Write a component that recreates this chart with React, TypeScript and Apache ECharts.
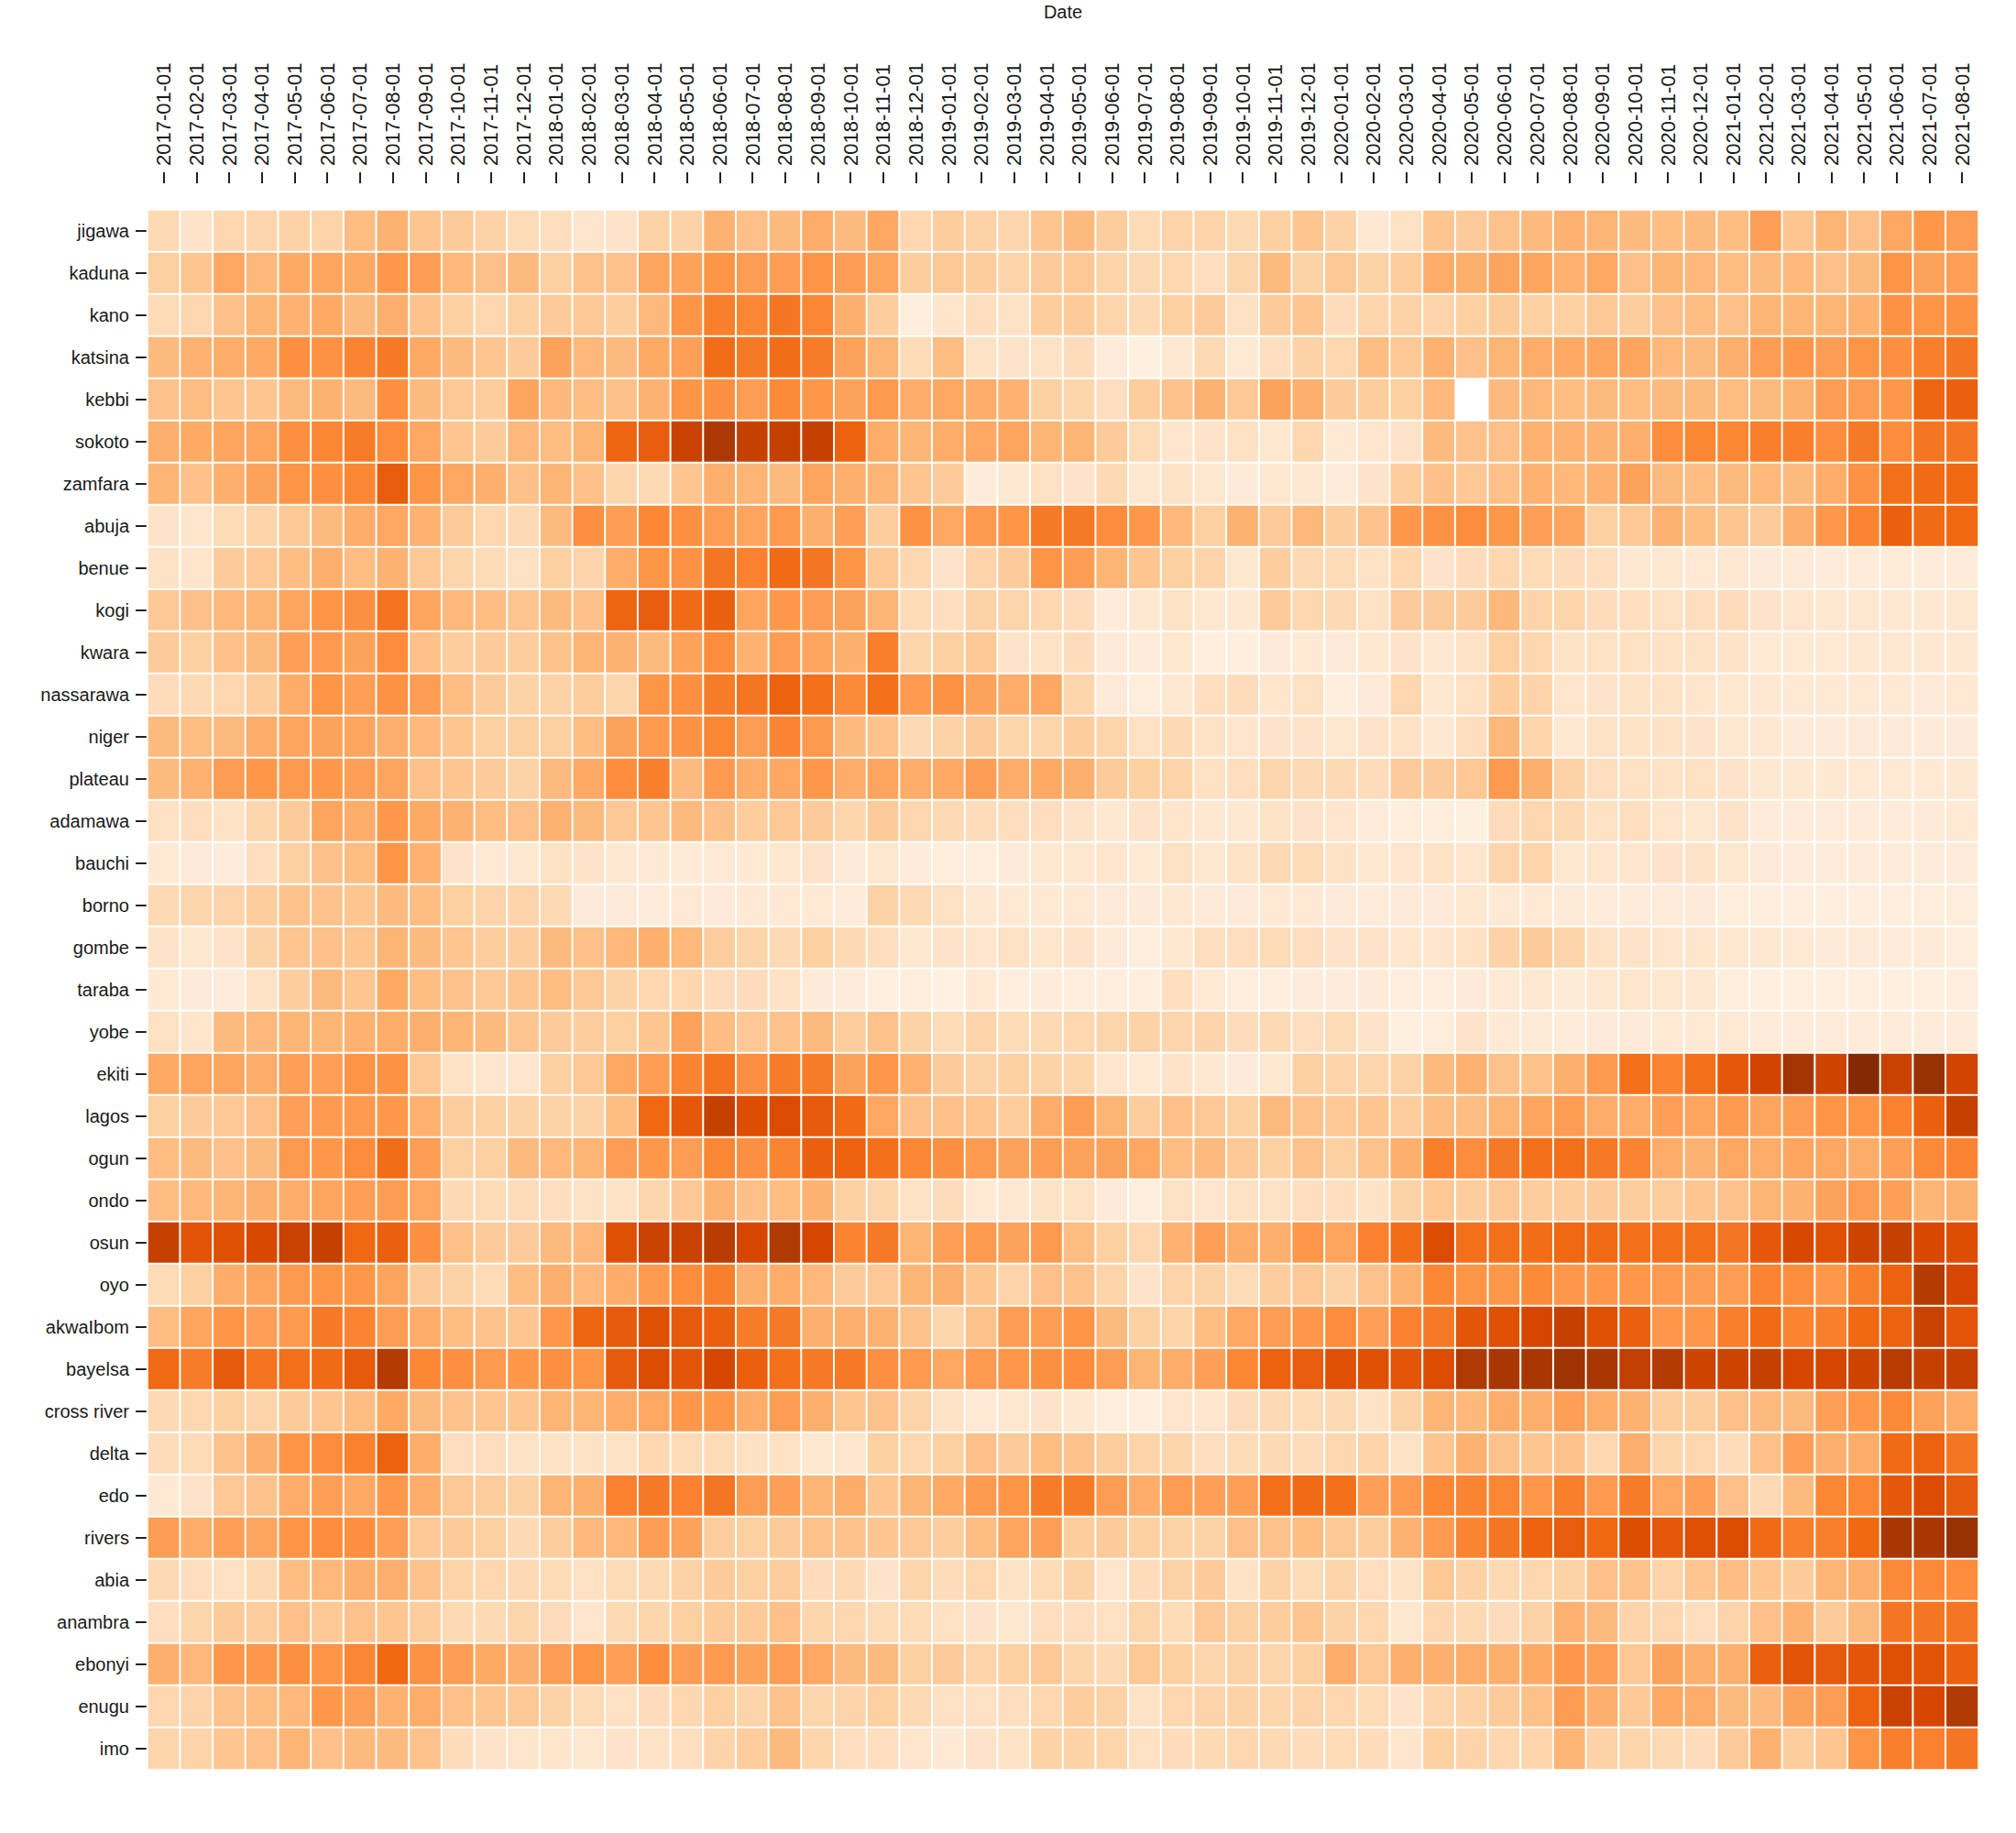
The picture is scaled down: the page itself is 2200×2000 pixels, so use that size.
import React, { useEffect, useRef } from "react";
import * as echarts from "echarts";

const dates = [
  "2017-01-01","2017-02-01","2017-03-01","2017-04-01","2017-05-01","2017-06-01","2017-07-01","2017-08-01","2017-09-01","2017-10-01","2017-11-01","2017-12-01",
  "2018-01-01","2018-02-01","2018-03-01","2018-04-01","2018-05-01","2018-06-01","2018-07-01","2018-08-01","2018-09-01","2018-10-01","2018-11-01","2018-12-01",
  "2019-01-01","2019-02-01","2019-03-01","2019-04-01","2019-05-01","2019-06-01","2019-07-01","2019-08-01","2019-09-01","2019-10-01","2019-11-01","2019-12-01",
  "2020-01-01","2020-02-01","2020-03-01","2020-04-01","2020-05-01","2020-06-01","2020-07-01","2020-08-01","2020-09-01","2020-10-01","2020-11-01","2020-12-01",
  "2021-01-01","2021-02-01","2021-03-01","2021-04-01","2021-05-01","2021-06-01","2021-07-01","2021-08-01",
];

const jigawa = [20,14,21,22,24,23,32,36,29,27,24,19,17,13,14,24,24,36,31,33,38,33,40,21,26,24,22,29,33,26,19,23,23,20,25,29,24,11,16,29,27,30,33,36,35,33,32,33,32,43,29,35,31,40,46,44];
const kaduna = [25,29,40,34,39,41,39,46,44,34,31,33,25,30,30,41,42,47,44,44,47,44,41,26,28,26,23,27,28,23,20,21,17,22,33,24,28,24,26,38,37,41,41,36,40,31,35,34,32,33,34,31,33,47,42,43];
const kano = [19,21,31,35,36,39,33,37,30,25,21,25,27,28,26,34,47,55,52,58,52,37,26,7,13,17,15,26,27,22,20,25,27,16,27,29,18,22,24,23,25,27,25,25,28,26,31,32,31,35,35,35,36,48,47,48];
const katsina = [33,36,38,39,49,48,53,57,39,33,29,27,42,34,33,39,43,61,57,61,56,42,35,19,32,15,14,15,18,8,5,11,20,10,17,24,21,32,28,36,31,35,38,39,41,41,34,33,37,44,46,44,47,49,55,58];
const kebbi = [30,32,29,29,33,36,33,49,33,28,26,41,34,32,31,36,47,49,44,51,46,42,45,38,40,38,36,25,22,17,26,30,36,28,42,37,27,26,25,34,null,33,34,32,33,32,33,33,32,33,36,44,44,46,64,66];
const sokoto = [37,39,41,41,49,52,56,50,40,29,27,34,32,35,64,67,79,86,80,80,80,65,38,35,38,40,41,35,35,27,19,13,14,16,12,21,10,13,14,33,30,31,36,36,36,37,50,52,52,55,55,50,57,50,58,58];
const zamfara = [35,31,37,42,47,49,52,67,47,40,37,31,35,31,22,20,29,37,35,33,41,37,35,29,27,8,11,16,14,20,12,15,12,9,12,11,8,14,26,31,28,31,36,34,36,42,33,32,33,34,33,38,48,60,62,63];
const abuja = [14,13,19,23,28,33,38,40,36,27,21,20,33,49,44,52,49,44,41,45,37,43,26,48,40,45,47,57,57,50,46,34,25,36,27,34,26,30,46,48,50,46,43,41,25,28,36,32,29,27,37,46,53,66,62,63];
const benue = [15,13,27,28,32,37,32,36,28,22,19,16,25,23,38,47,48,58,54,62,58,47,28,21,14,23,27,47,44,35,29,25,23,12,26,20,19,15,21,14,18,21,19,18,17,11,12,10,11,9,9,8,8,8,8,8];
const kogi = [28,31,34,35,41,47,49,59,41,34,32,29,33,31,64,67,62,66,41,46,44,42,35,19,17,24,22,21,18,8,11,15,12,11,27,21,20,16,27,27,27,34,23,22,18,17,16,17,18,14,13,12,12,11,11,12];
const kwara = [27,25,31,33,43,45,42,50,31,26,27,26,30,35,36,33,42,50,36,44,41,37,55,22,25,28,14,15,18,9,8,12,6,6,9,10,9,11,14,11,15,25,21,15,16,16,15,15,14,10,10,10,11,11,11,11];
const nassarawa = [18,20,21,26,38,47,43,48,44,32,27,24,24,26,22,47,49,56,58,65,60,51,60,45,48,42,38,40,22,9,7,11,17,18,13,16,6,9,21,12,16,26,23,13,14,15,15,13,12,11,10,10,10,10,9,10];
const niger = [33,32,33,38,41,42,41,37,34,29,25,25,25,32,42,45,48,52,44,53,45,33,30,20,24,27,22,22,26,22,16,20,15,13,14,14,12,14,15,11,17,34,22,11,15,15,15,14,12,11,9,9,9,9,9,9];
const plateau = [33,36,44,46,45,46,43,41,31,29,27,24,33,39,50,55,33,45,38,40,46,38,41,38,39,44,38,39,37,27,25,23,16,17,22,20,20,18,27,27,28,45,37,24,17,16,15,16,14,11,11,11,10,10,10,11];
const adamawa = [16,17,15,22,27,41,38,46,39,36,32,31,36,33,28,29,33,31,26,28,27,22,27,21,20,18,17,17,14,11,14,13,11,11,15,14,13,8,7,7,5,18,21,20,16,17,13,12,14,8,8,8,8,8,9,10];
const bauchi = [10,9,8,17,25,31,32,47,36,14,10,11,16,14,11,10,9,10,10,12,14,9,12,8,7,7,9,12,12,13,10,16,12,15,20,19,15,11,13,15,13,22,22,12,13,13,14,14,12,9,8,8,8,8,8,8];
const borno = [20,22,23,26,30,30,29,33,32,25,23,23,20,9,9,8,10,9,10,10,10,8,24,20,16,11,10,10,10,9,9,11,9,9,10,10,9,8,9,9,12,10,10,9,8,8,8,9,7,6,6,6,6,6,7,7];
const gombe = [14,12,14,24,29,31,29,35,33,29,26,26,33,31,34,37,34,26,23,20,25,20,17,12,14,13,16,13,14,9,7,12,17,17,19,17,14,14,13,13,16,24,27,23,15,14,13,13,12,11,10,9,9,8,9,7];
const taraba = [10,9,8,15,26,33,29,39,32,30,28,29,32,28,24,21,21,18,18,15,9,8,5,7,4,10,6,8,7,6,6,17,10,7,6,8,8,9,6,6,9,10,11,9,12,13,12,11,7,5,5,5,5,5,5,6];
const yobe = [16,13,33,34,35,35,36,38,37,35,33,29,27,26,25,29,42,32,28,30,33,26,30,24,19,23,19,20,21,22,24,22,23,18,20,17,19,14,5,7,14,10,9,8,9,9,10,10,10,8,8,8,8,8,8,8];
const ekiti = [39,41,41,38,43,43,47,48,28,15,13,13,25,28,40,44,53,59,49,56,56,42,46,36,27,24,25,24,22,13,10,14,11,9,12,25,23,22,24,33,36,30,30,37,45,60,53,60,69,77,88,78,98,79,92,77];
const lagos = [25,27,28,31,43,45,45,46,36,26,25,24,24,24,32,63,69,80,73,74,68,62,40,31,31,29,26,38,44,35,26,31,28,25,33,30,28,29,26,32,32,35,41,44,38,38,43,41,45,41,44,47,47,54,66,80];
const ogun = [32,33,31,33,45,46,50,61,44,25,25,33,34,35,44,46,44,52,49,53,66,65,60,52,49,45,42,44,42,42,40,32,33,28,25,30,25,30,37,55,50,57,60,60,57,53,38,36,40,38,41,40,38,43,51,53];
const ondo = [32,34,35,37,38,41,43,44,40,20,19,18,17,15,15,22,28,36,31,32,36,25,22,16,18,10,11,15,16,9,7,16,13,16,16,17,17,15,24,28,26,28,26,26,27,26,26,29,30,35,36,42,44,43,35,36];
const osun = [80,71,72,75,79,80,63,66,49,31,27,27,33,34,72,79,79,83,76,85,76,53,57,35,43,45,42,45,32,25,21,36,43,38,37,46,41,54,61,74,60,60,61,63,62,60,60,60,58,69,75,72,78,80,75,73];
const oyo = [19,25,38,41,45,47,46,41,27,24,19,32,37,34,38,45,50,55,37,38,34,27,28,35,37,29,23,31,30,23,14,23,24,19,26,28,24,30,36,52,47,46,51,46,46,46,45,44,44,53,50,46,55,65,84,76];
const akwaibom = [32,41,47,43,45,57,53,44,38,32,30,29,46,64,68,72,68,66,56,57,37,37,36,30,22,30,44,44,47,33,25,23,32,40,44,46,50,43,54,57,70,72,76,80,72,66,46,46,55,62,53,55,63,65,79,70];
const bayelsa = [62,56,68,59,60,62,68,84,52,49,45,46,49,47,68,74,70,76,66,60,57,57,49,45,40,45,46,49,50,44,35,38,43,52,65,67,72,72,70,74,85,87,87,90,87,81,84,78,78,80,76,76,78,83,80,80];
const crossRiver = [20,21,25,23,27,29,32,39,33,30,29,29,35,35,38,40,46,46,38,44,37,29,30,23,15,10,12,14,11,7,6,13,13,18,20,19,20,15,24,35,34,38,37,43,38,36,26,26,31,33,33,43,46,51,42,38];
const delta = [18,19,30,37,47,50,54,65,38,17,17,15,15,15,15,21,19,19,16,16,12,13,25,21,25,31,27,32,30,26,23,22,17,19,20,18,21,23,15,29,36,30,29,30,21,37,22,21,18,31,43,37,38,62,65,58];
const edo = [10,14,28,30,38,43,39,46,38,28,26,25,35,37,54,57,54,58,44,43,35,38,29,35,39,45,47,56,56,44,38,44,43,43,60,62,60,43,45,52,53,52,46,55,45,56,40,43,31,20,33,52,52,69,74,68];
const rivers = [44,38,43,41,47,50,49,43,28,27,25,20,26,34,34,44,42,26,25,27,30,30,29,28,26,32,41,43,26,27,25,24,24,31,30,32,28,26,36,45,53,58,65,67,63,73,69,72,74,62,55,55,63,87,87,92];
const abia = [20,17,16,20,32,34,37,37,30,23,21,20,19,16,19,20,24,27,25,26,18,20,14,22,18,21,15,19,24,13,18,24,27,15,24,19,23,17,15,28,24,20,21,24,31,30,23,29,32,29,27,35,37,51,51,50];
const anambra = [17,22,27,26,31,28,30,29,26,20,20,22,18,13,20,22,25,27,27,31,22,21,19,19,16,14,12,17,17,16,22,19,28,25,26,29,24,21,12,21,20,18,24,36,33,23,21,17,23,31,36,27,33,58,58,58];
const ebonyi = [37,34,46,46,49,47,52,63,48,44,39,37,44,47,43,50,44,45,42,44,40,33,33,25,27,23,25,28,22,20,28,25,22,24,22,25,38,28,37,37,38,37,39,46,43,28,42,37,37,66,71,68,70,72,71,66];
const enugu = [21,23,30,32,34,46,43,36,38,31,29,28,24,19,16,18,21,25,23,30,22,23,25,20,16,16,17,21,26,24,15,21,23,24,22,23,21,19,14,22,24,27,31,44,37,28,39,38,33,33,42,44,65,79,76,85];
const imo = [22,23,29,31,35,31,33,33,30,18,14,13,13,12,14,15,17,23,26,33,22,17,17,13,10,14,15,24,24,22,16,18,20,21,20,18,19,18,13,25,23,21,22,35,24,22,20,18,27,36,26,29,47,55,54,58];

const states = ["jigawa","kaduna","kano","katsina","kebbi","sokoto","zamfara","abuja","benue","kogi","kwara","nassarawa","niger","plateau","adamawa","bauchi","borno","gombe","taraba","yobe","ekiti","lagos","ogun","ondo","osun","oyo","akwaIbom","bayelsa","cross river","delta","edo","rivers","abia","anambra","ebonyi","enugu","imo"];
const rows: (number | null)[][] = [jigawa,kaduna,kano,katsina,kebbi,sokoto,zamfara,abuja,benue,kogi,kwara,nassarawa,niger,plateau,adamawa,bauchi,borno,gombe,taraba,yobe,ekiti,lagos,ogun,ondo,osun,oyo,akwaibom,bayelsa,crossRiver,delta,edo,rivers,abia,anambra,ebonyi,enugu,imo];
const oranges = ["#fff5eb","#fee6ce","#fdd0a2","#fdae6b","#fd8d3c","#f16913","#d94801","#a63603","#7f2704"];

const FONT = "'Liberation Sans', Arial, sans-serif";

export default function App() {
  const ref = useRef<HTMLDivElement>(null);
  useEffect(() => {
    const chart = echarts.init(ref.current!, null, { renderer: "svg" });
    const data: [number, number, number][] = [];
    rows.forEach((row, y) => row.forEach((v, x) => { if (v !== null && v !== undefined) data.push([x, y, v]); }));
    chart.setOption({
      animation: false,
      backgroundColor: "#ffffff",
      grid: { left: 161, top: 229, width: 1998, height: 1702, containLabel: false, outerBoundsMode: "none" },
      xAxis: {
        type: "category",
        position: "top",
        offset: 29,
        data: dates,
        name: "Date",
        nameLocation: "middle",
        nameGap: 177,
        nameTextStyle: { fontFamily: FONT, fontSize: 20, color: "#1a1a1a" },
        axisLine: { show: false },
        axisTick: { show: true, alignWithLabel: true, length: 12, lineStyle: { color: "#222", width: 2 } },
        axisLabel: { interval: 0, rotate: -90, margin: 19, fontFamily: FONT, fontSize: 22, color: "#1a1a1a", hideOverlap: false },
        splitLine: { show: false },
        splitArea: { show: false },
      },
      yAxis: {
        type: "category",
        inverse: true,
        offset: 1,
        data: states,
        axisLine: { show: false },
        axisTick: { show: true, alignWithLabel: true, length: 12, lineStyle: { color: "#222", width: 2 } },
        axisLabel: { interval: 0, margin: 19, fontFamily: FONT, fontSize: 20, color: "#1a1a1a" },
        splitLine: { show: false },
        splitArea: { show: false },
      },
      visualMap: { show: false, type: "continuous", min: 0, max: 100, dimension: 2, inRange: { color: oranges } },
      series: [{
        type: "heatmap",
        data,
        silent: true,
        progressive: 0,
        itemStyle: { borderColor: "#ffffff", borderWidth: 2 },
        emphasis: { disabled: true },
      }],
    });
    return () => chart.dispose();
  }, []);
  return <div ref={ref} style={{ position: "absolute", left: 0, top: 0, width: 2200, height: 2000 }} />;
}
